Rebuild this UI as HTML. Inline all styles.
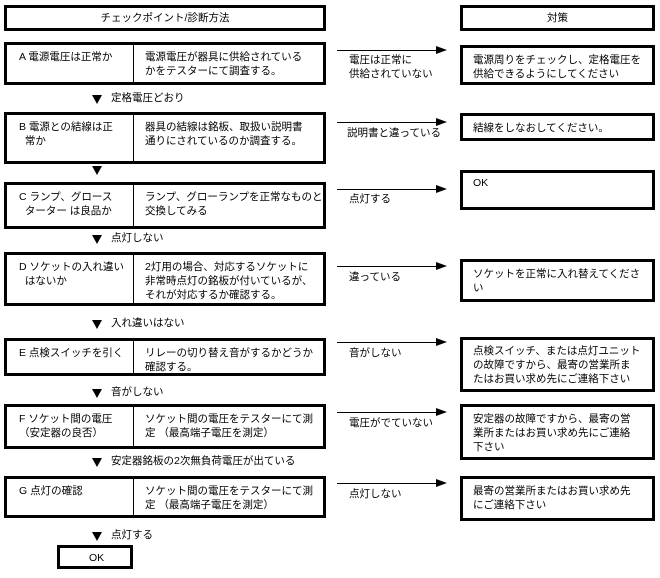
<!DOCTYPE html>
<html><head><meta charset="utf-8"><style>
body{margin:0;width:660px;height:578px;background:#fff;position:relative;font-family:"Liberation Sans","Noto Sans CJK JP",sans-serif;font-size:10.5px;color:#000;overflow:hidden}
.b{position:absolute;border:3px solid #000;box-sizing:border-box;background:#fff;white-space:nowrap}
.l{position:absolute;top:0;bottom:0;left:0;width:127px;border-right:1px solid #000;padding:5px 0 0 12px;box-sizing:border-box;line-height:14px}
.r{position:absolute;top:0;left:138px;right:2px;padding-top:5px;line-height:14px}
.t{position:absolute;line-height:14px;white-space:nowrap}
.rb{padding:5px 0 0 10px;line-height:14px}
.arr{position:absolute;left:337px;width:100px;height:1px;background:#000}
.arr:after{content:"";position:absolute;right:-10px;top:-4px;border-left:11px solid #000;border-top:4.5px solid transparent;border-bottom:4.5px solid transparent}
.tri{position:absolute;width:0;height:0;border-top:9px solid #000;border-left:5.5px solid transparent;border-right:5.5px solid transparent}
</style></head><body>
<div class="b" style="left:4px;top:5px;width:322px;height:26px;text-align:center;line-height:20px">チェックポイント/診断方法</div>
<div class="b" style="left:460px;top:5px;width:195px;height:26px;text-align:center;line-height:20px">対策</div>

<div class="b" style="left:4px;top:42px;width:322px;height:43px"><div class="l">A 電源電圧は正常か</div><div class="r">電源電圧が器具に供給されている<br>かをテスターにて調査する。</div></div>
<div class="tri" style="left:92px;top:95px"></div><div class="t" style="left:111px;top:91px">定格電圧どおり</div>

<div class="b" style="left:4px;top:112px;width:322px;height:52px"><div class="l">B 電源との結線は正<br>&nbsp;&nbsp;常か</div><div class="r">器具の結線は銘板、取扱い説明書<br>通りにされているのか調査する。</div></div>
<div class="tri" style="left:92px;top:166px"></div>

<div class="b" style="left:4px;top:182px;width:322px;height:47px"><div class="l">C ランプ、グロース<br>&nbsp;&nbsp;ターター は良品か</div><div class="r">ランプ、グローランプを正常なものと<br>交換してみる</div></div>
<div class="tri" style="left:92px;top:235px"></div><div class="t" style="left:111px;top:231px">点灯しない</div>

<div class="b" style="left:4px;top:252px;width:322px;height:54px"><div class="l">D ソケットの入れ違い<br>&nbsp;&nbsp;はないか</div><div class="r">2灯用の場合、対応するソケットに<br>非常時点灯の銘板が付いているが、<br>それが対応するか確認する。</div></div>
<div class="tri" style="left:92px;top:320px"></div><div class="t" style="left:111px;top:316px">入れ違いはない</div>

<div class="b" style="left:4px;top:338px;width:322px;height:38px"><div class="l">E 点検スイッチを引く</div><div class="r">リレーの切り替え音がするかどうか<br>確認する。</div></div>
<div class="tri" style="left:92px;top:389px"></div><div class="t" style="left:111px;top:385px">音がしない</div>

<div class="b" style="left:4px;top:404px;width:322px;height:45px"><div class="l">F ソケット間の電圧<br>（安定器の良否）</div><div class="r">ソケット間の電圧をテスターにて測<br>定 （最高端子電圧を測定）</div></div>
<div class="tri" style="left:92px;top:458px"></div><div class="t" style="left:111px;top:454px">安定器銘板の2次無負荷電圧が出ている</div>

<div class="b" style="left:4px;top:476px;width:322px;height:42px"><div class="l">G 点灯の確認</div><div class="r">ソケット間の電圧をテスターにて測<br>定 （最高端子電圧を測定）</div></div>
<div class="tri" style="left:92px;top:532px"></div><div class="t" style="left:111px;top:528px">点灯する</div>
<div class="b" style="left:57px;top:545px;width:76px;height:24px;padding:4px 0 0 29px;line-height:13px">OK</div>

<div class="arr" style="top:50px"></div><div class="t" style="left:349px;top:53px">電圧は正常に<br>供給されていない</div>
<div class="b rb" style="left:460px;top:45px;width:195px;height:40px">電源周りをチェックし、定格電圧を<br>供給できるようにしてください</div>

<div class="arr" style="top:122px"></div><div class="t" style="left:347px;top:126px">説明書と違っている</div>
<div class="b rb" style="left:460px;top:113px;width:195px;height:28px">結線をしなおしてください。</div>

<div class="arr" style="top:189px"></div><div class="t" style="left:349px;top:192px">点灯する</div>
<div class="b rb" style="left:460px;top:170px;width:195px;height:40px;padding-top:3px">OK</div>

<div class="arr" style="top:266px"></div><div class="t" style="left:349px;top:270px">違っている</div>
<div class="b rb" style="left:460px;top:259px;width:195px;height:43px">ソケットを正常に入れ替えてくださ<br>い</div>

<div class="arr" style="top:342px"></div><div class="t" style="left:349px;top:346px">音がしない</div>
<div class="b rb" style="left:460px;top:337px;width:195px;height:55px;padding-top:4px">点検スイッチ、または点灯ユニット<br>の故障ですから、最寄の営業所ま<br>たはお買い求め先にご連絡下さい</div>

<div class="arr" style="top:412px"></div><div class="t" style="left:349px;top:416px">電圧がでていない</div>
<div class="b rb" style="left:460px;top:404px;width:195px;height:56px">安定器の故障ですから、最寄の営<br>業所またはお買い求め先にご連絡<br>下さい</div>

<div class="arr" style="top:483px"></div><div class="t" style="left:349px;top:487px">点灯しない</div>
<div class="b rb" style="left:460px;top:476px;width:195px;height:45px">最寄の営業所またはお買い求め先<br>にご連絡下さい</div>
</body></html>
